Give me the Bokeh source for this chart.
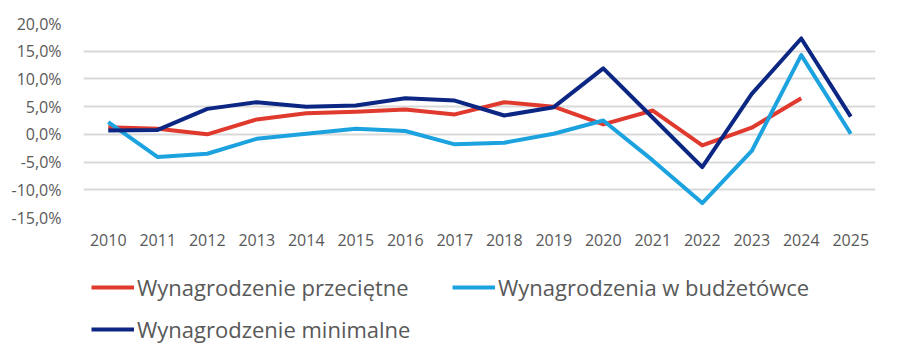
from bokeh.plotting import figure
from bokeh.layouts import column
from bokeh.models import FactorRange, Range1d, Legend, LegendItem, CustomJSTickFormatter, FixedTicker
from bokeh.embed import file_html
from bokeh.resources import INLINE

years = [str(y) for y in range(2010, 2026)]
przecietne = [1.3, 1.0, 0.0, 2.7, 3.8, 4.1, 4.5, 3.6, 5.8, 5.0, 1.8, 4.3, -2.0, 1.2, 6.5]
budzetowka = [2.2, -4.1, -3.5, -0.8, 0.1, 1.0, 0.6, -1.8, -1.5, 0.1, 2.5, -4.7, -12.4, -3.0, 14.3, 0.1]
minimalne = [0.7, 0.8, 4.6, 5.8, 5.0, 5.2, 6.5, 6.1, 3.4, 4.9, 11.9, 3.0, -5.9, 7.3, 17.3, 3.2]
y_ticks = [-15, -10, -5, 0, 5, 10, 15, 20]
names = ["Wynagrodzenie przeciętne", "Wynagrodzenia w budżetówce", "Wynagrodzenie minimalne"]
colors = ["#E03A2F", "#1CA3DF", "#0C2783"]
series = [przecietne, budzetowka, minimalne]

FONT = "Open Sans"
GRAY = "#595959"

p = figure(width=882, height=260, x_range=FactorRange(*years, range_padding=0),
           y_range=Range1d(-15, 20), output_backend="svg", toolbar_location=None,
           min_border_left=83, min_border_right=7, min_border_top=23, min_border_bottom=43)
p.outline_line_color = None
p.background_fill_color = "white"
p.border_fill_color = "white"

for vals, c in zip(series, colors):
    p.line(years[:len(vals)], vals, line_color=c, line_width=4, line_join="round")

p.xgrid.grid_line_color = None
p.ygrid.grid_line_color = "#D9D9D9"
p.ygrid.grid_line_width = 2
p.yaxis.ticker = FixedTicker(ticks=y_ticks)
p.yaxis.formatter = CustomJSTickFormatter(code="return tick.toFixed(1).replace('.', ',') + '%';")
for ax in (p.xaxis, p.yaxis):
    ax.axis_line_color = None
    ax.major_tick_line_color = None
    ax.minor_tick_line_color = None
    ax.major_label_text_font = FONT
    ax.major_label_text_font_size = "16px"
    ax.major_label_text_color = GRAY
p.yaxis.major_label_standoff = 16
p.xaxis.major_label_standoff = 10

# legend strip below the chart (its lines lie outside its visible y range)
lg = figure(width=882, height=84, output_backend="svg", toolbar_location=None,
            x_range=p.x_range, y_range=Range1d(1000, 1001),
            x_axis_type=None, y_axis_type=None, min_border=0)
lg.outline_line_color = None
lg.border_fill_color = "white"
lg.background_fill_color = "white"
lr = [lg.line(years[:len(vals)], vals, line_color=c, line_width=4) for vals, c in zip(series, colors)]

legend = Legend(items=[LegendItem(label=n, renderers=[r]) for n, r in zip(names, lr)],
                orientation="horizontal", ncols=2)
legend.label_text_font = FONT
legend.label_text_font_size = "22px"
legend.label_text_color = GRAY
legend.border_line_color = None
legend.background_fill_alpha = 0
legend.glyph_width = 43
legend.glyph_height = 30
legend.label_height = 30
legend.label_width = 303
legend.label_standoff = 3
legend.spacing = 12
legend.padding = 0
legend.margin = 0
legend.location = (8, 0)
lg.add_layout(legend, "center")

open("out.html", "w").write(file_html(column(p, lg, spacing=0), INLINE))
